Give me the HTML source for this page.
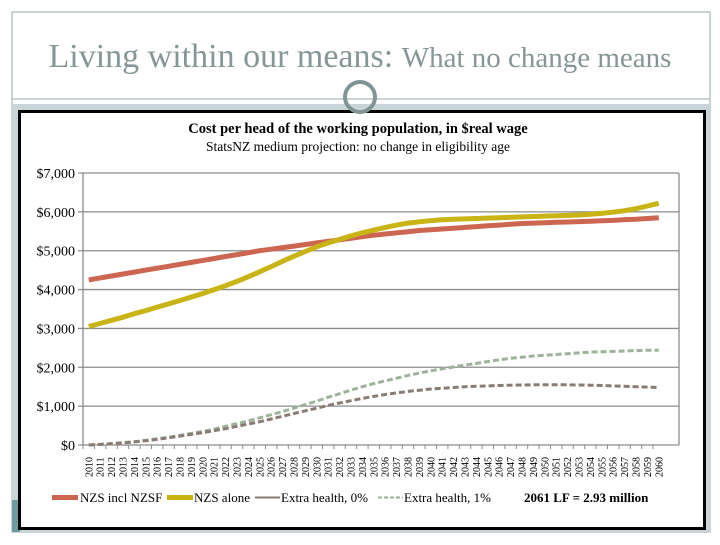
<!DOCTYPE html>
<html><head><meta charset="utf-8"><style>
body{margin:0;width:720px;height:540px;background:#fff;overflow:hidden;font-family:"Liberation Serif",serif;}
</style></head><body>
<svg width="720" height="540" xmlns="http://www.w3.org/2000/svg">
<rect x="12" y="12" width="698" height="520" fill="#fff" stroke="#9aa8a8" stroke-width="1"/>
<text x="360" y="67" text-anchor="middle" fill="#869696" font-family="Liberation Serif, serif"><tspan font-size="34">Living within our means: </tspan><tspan font-size="29">What no change means</tspan></text>
<line x1="12" y1="99" x2="710" y2="99" stroke="#9aa8a8" stroke-width="1"/>
<rect x="12" y="104" width="698" height="428" fill="#c9d4d8"/>
<rect x="12" y="500" width="8" height="32" fill="#6f9aa0"/>
<rect x="19.5" y="111.5" width="685" height="417" fill="#fff" stroke="#000" stroke-width="3"/>
<circle cx="360" cy="97" r="15" fill="none" stroke="#7f9595" stroke-width="4"/>
<text x="358" y="133" text-anchor="middle" font-size="14.5" font-weight="bold" fill="#000">Cost per head of the working population, in $real wage</text>
<text x="358" y="151" text-anchor="middle" font-size="13.5" fill="#000">StatsNZ medium projection: no change in eligibility age</text>
<g id="grid"></g><g id="series"></g><g id="axes"></g>
<g font-size="13">
<rect x="52" y="495" width="26" height="5" fill="#cc6650"/>
<text x="80" y="502">NZS incl NZSF</text>
<rect x="167" y="495" width="26" height="5" fill="#c8b414"/>
<text x="194" y="502">NZS alone</text>
<line x1="255" y1="497.5" x2="280" y2="497.5" stroke="#8a7c74" stroke-width="2"/>
<text x="281" y="502">Extra health, 0%</text>
<line x1="378" y1="497.5" x2="403" y2="497.5" stroke="#9db39a" stroke-width="2" stroke-dasharray="4,2"/>
<text x="404" y="502">Extra health, 1%</text>
<text x="524" y="502" font-weight="bold">2061 LF = 2.93 million</text>
</g>
</svg>
<script>
const years=[];for(let y=2010;y<=2060;y++)years.push(String(y));
const yTicks=[0,1000,2000,3000,4000,5000,6000,7000];
const yTickLabels=["$0","$1,000","$2,000","$3,000","$4,000","$5,000","$6,000","$7,000"];
const nzsInclNzsf=[4250,4300,4350,4400,4450,4500,4550,4600,4650,4700,4750,4800,4850,4900,4950,5000,5040,5080,5120,5160,5200,5240,5280,5320,5360,5400,5430,5460,5490,5520,5540,5560,5580,5600,5620,5640,5660,5680,5700,5710,5720,5730,5740,5750,5760,5770,5780,5800,5810,5830,5850];
const nzsAlone=[3050,3130,3210,3290,3380,3460,3550,3630,3720,3810,3900,4000,4100,4210,4330,4460,4590,4730,4860,4980,5100,5200,5290,5380,5460,5530,5600,5660,5710,5745,5775,5795,5810,5820,5830,5840,5850,5860,5870,5880,5890,5900,5910,5920,5940,5960,5990,6030,6080,6150,6220];
const extraHealth0=[0,15,35,55,80,110,145,185,230,275,320,370,420,480,540,600,670,740,810,880,950,1020,1080,1140,1200,1250,1300,1340,1380,1410,1440,1460,1480,1500,1510,1520,1530,1540,1545,1550,1550,1550,1550,1545,1540,1530,1520,1510,1500,1490,1480];
const extraHealth1=[0,15,35,60,85,120,160,200,250,300,350,410,480,550,620,700,780,860,950,1040,1130,1230,1320,1410,1500,1580,1650,1720,1790,1850,1910,1960,2010,2060,2100,2150,2190,2230,2260,2290,2310,2330,2350,2370,2390,2400,2410,2420,2430,2440,2440];
const NS="http://www.w3.org/2000/svg";
const L=83,R=679,T=173,B=445,yMax=7000;
const step=11.4;
function xs(i){return 88.8+i*step;}
function ys(v){return B-(v/yMax)*(B-T);}
function mk(tag,attrs,parent){const e=document.createElementNS(NS,tag);for(const k in attrs)e.setAttribute(k,attrs[k]);parent.appendChild(e);return e;}
const grid=document.getElementById('grid'),axes=document.getElementById('axes'),ser=document.getElementById('series');
yTicks.forEach((v,i)=>{
 const g=mk('line',{x1:L-5,x2:R,y1:ys(v),y2:ys(v),stroke:'#8c8c8c','stroke-width':1.3},grid);
 
 
 const t=mk('text',{x:L-8,y:ys(v)+5,'text-anchor':'end','font-size':14,fill:'#000'},axes);
 t.textContent=yTickLabels[i];
 
 
});
const va=mk('line',{x1:L,x2:L,y1:T,y2:B,stroke:'#8c8c8c','stroke-width':1.3},axes);


const vr=mk('line',{x1:R,x2:R,y1:T,y2:B,stroke:'#8c8c8c','stroke-width':1.3},axes);


years.forEach((y,i)=>{
 const tk=mk('line',{x1:xs(i)-step/2,x2:xs(i)-step/2,y1:B,y2:B+4,stroke:'#8c8c8c'},axes);
 
 
 const t=mk('text',{x:0,y:0,'font-size':10,fill:'#000',transform:`translate(${xs(i)+3.5},${B+32}) rotate(-90)`},axes);
 t.textContent=y;
 
 
});
function line(data,color,w,dash,name){
 const d=data.map((v,i)=>(i?'L':'M')+xs(i).toFixed(1)+','+ys(v).toFixed(1)).join(' ');
 const p=mk('path',{d:d,fill:'none',stroke:color,'stroke-width':w,'stroke-linejoin':'round'},ser);
 if(dash)p.setAttribute('stroke-dasharray',dash);
 
 
}
line(extraHealth1,'#9db39a',3,'6,3','series-extra-health-1');
line(extraHealth0,'#8a7c74',3,'6,3','series-extra-health-0');
line(nzsInclNzsf,'#cc6650',5,null,'series-nzs-incl-nzsf');
line(nzsAlone,'#c8b414',5,null,'series-nzs-alone');
</script>
</body></html>
